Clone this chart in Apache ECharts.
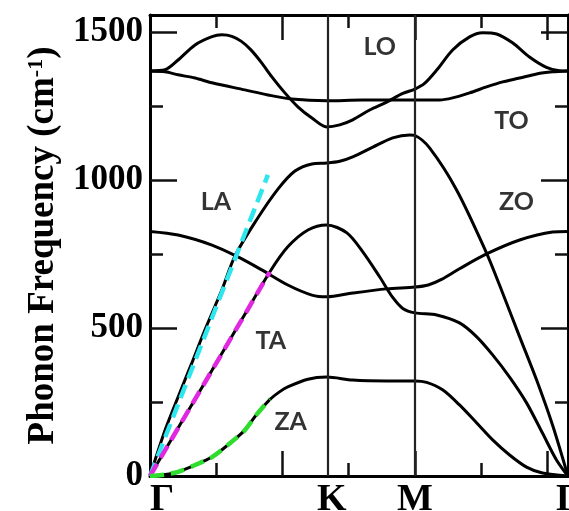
<!DOCTYPE html>
<html><head><meta charset="utf-8">
<script src="https://cdn.jsdelivr.net/npm/echarts@6/dist/echarts.min.js"></script>
<style>html,body{margin:0;padding:0;background:#fff}#c{width:569px;height:511px}</style>
</head><body><div id="c"></div>
<script>
// High-symmetry path positions (units of 2π/a): Γ - K - M - Γ
const K = 0.6667, M = 1.0, G2 = 1.5774;
const symPoints = [0, K, M, G2];
const symLabels = ['Γ', 'K', 'M', 'Γ'];
const yMax = 1557;
const yTickLabels = [0, 500, 1000, 1500];
const yMajorTicks = [500, 1000, 1500];
const yMinorTicks = [250, 750, 1250];
const xMajorTicks = [0.5, 1.0, 1.5];
const xMinorTicks = [0.25, 0.75, 1.25];

// Phonon branches [k, frequency cm^-1]
const bandLO = [[0,1368],[0.057,1372],[0.106,1405],[0.17,1456],[0.234,1484],[0.271,1490],[0.309,1485],[0.345,1468],[0.38,1440],[0.42,1397],[0.46,1348],[0.509,1294],[0.558,1247],[0.611,1209],[0.667,1179],[0.716,1186],[0.765,1203],[0.829,1236],[0.893,1263],[0.954,1292],[1.0,1307],[1.035,1325],[1.082,1371],[1.142,1439],[1.206,1483],[1.255,1497],[1.308,1493],[1.368,1463],[1.432,1415],[1.496,1380],[1.545,1369],[1.577,1368]];
const bandTO = [[0,1368],[0.057,1365],[0.106,1355],[0.17,1344],[0.234,1328],[0.358,1304],[0.445,1287],[0.535,1273],[0.667,1267],[0.8,1270],[1.0,1270],[1.093,1270],[1.142,1277],[1.206,1294],[1.27,1314],[1.331,1331],[1.395,1344],[1.459,1358],[1.519,1365],[1.577,1368]];
const bandLA = [[0,0],[0.057,155],[0.106,267],[0.158,382],[0.207,493],[0.271,628],[0.32,742],[0.4,862],[0.482,968],[0.547,1030],[0.611,1054],[0.667,1057],[0.716,1063],[0.765,1078],[0.841,1111],[0.916,1142],[0.98,1152],[1.0,1150],[1.055,1108],[1.157,966],[1.27,753],[1.319,645],[1.395,470],[1.459,324],[1.519,172],[1.577,0]];
const bandZO = [[0,826],[0.106,814],[0.234,780],[0.332,740],[0.422,696],[0.52,645],[0.611,611],[0.667,605],[0.765,618],[0.893,632],[1.0,638],[1.05,645],[1.1,664],[1.168,700],[1.27,750],[1.395,797],[1.519,824],[1.577,826]];
const bandTA = [[0,0],[0.106,162],[0.234,357],[0.358,546],[0.452,689],[0.52,774],[0.596,831],[0.667,848],[0.743,821],[0.803,757],[0.867,672],[0.916,603],[0.954,566],[1.0,551],[1.082,544],[1.168,517],[1.233,470],[1.293,409],[1.357,334],[1.421,247],[1.481,145],[1.534,54],[1.577,0]];
const bandZA = [[0,0],[0.057,5],[0.106,14],[0.17,37],[0.234,64],[0.294,105],[0.358,155],[0.4,205],[0.452,258],[0.49,285],[0.52,301],[0.596,327],[0.667,334],[0.765,324],[0.893,321],[1.0,321],[1.044,316],[1.104,291],[1.168,240],[1.233,179],[1.293,122],[1.357,71],[1.421,30],[1.481,10],[1.577,0]];

// Long-wavelength fits (dashed colored)
const fitLA = [[0,0],[0.445,1017]];
const fitTA = [[0,0],[0.452,689]];
const fitZA = [[0,0],[0.057,5],[0.106,14],[0.17,37],[0.234,64],[0.294,105],[0.358,155],[0.4,205],[0.452,260]];

// Branch labels
const branchLabels = [
  {name:'LO', value:[0.867,1449]},
  {name:'TO', value:[1.364,1199]},
  {name:'LA', value:[0.249,926]},
  {name:'ZO', value:[1.383,926]},
  {name:'TA', value:[0.456,456]},
  {name:'ZA', value:[0.531,182]}
];

const serif = 'Liberation Serif';
const gridRect = {left:150, right:1, top:15, bottom:35, containLabel:false, outerBoundsMode:'none'};

function xAxis(gridIndex, position, ticks, len, main, labels) {
  return {
    type:'value', gridIndex, position, min:0, max:G2,
    axisLine:{show:main, onZero:false, lineStyle:{color:'#000', width:3}},
    axisTick:{show:true, inside:true, length:len, customValues:ticks, lineStyle:{color:'#111', width:2.5}},
    splitLine:{show:false},
    axisLabel: labels ? {
      show:true, customValues:symPoints, margin:5,
      fontFamily:serif, fontWeight:'bold', fontSize:38, color:'#000',
      formatter:(v)=>{
        let idx = 0, best = 1e9;
        symPoints.forEach((p,i)=>{ if (Math.abs(p-v)<best){best=Math.abs(p-v);idx=i;} });
        if (idx===0) return '{a|'+symLabels[idx]+'}';
        if (idx===1) return '{b|'+symLabels[idx]+'}';
        return symLabels[idx];
      },
      rich:{
        a:{fontFamily:serif, fontWeight:'bold', fontSize:38, color:'#000', padding:[0,0,0,24]},
        b:{fontFamily:serif, fontWeight:'bold', fontSize:38, color:'#000', padding:[0,0,0,10]}
      }
    } : {show:false}
  };
}
function yAxis(gridIndex, position, ticks, len, main, labels) {
  const ax = {
    type:'value', gridIndex, position, min:0, max:yMax,
    axisLine:{show:main, onZero:false, lineStyle:{color:'#000', width:3}},
    axisTick:{show:true, inside:true, length:len, customValues:ticks, lineStyle:{color:'#111', width:2.5}},
    splitLine:{show:false},
    axisLabel: labels ? {show:true, customValues:yTickLabels, margin:7, formatter:(v)=>String(v),
      fontFamily:serif, fontWeight:'bold', fontSize:35, color:'#000'} : {show:false}
  };
  if (labels) {
    ax.name = 'Phonon Frequency (cm{sup|-1})';
    ax.nameLocation = 'middle';
    ax.nameRotate = 90;
    ax.nameGap = 80;
    ax.nameTextStyle = {fontFamily:serif, fontWeight:'bold', fontSize:37, color:'#000',
      rich:{sup:{fontFamily:serif, fontWeight:'bold', fontSize:22, color:'#000', verticalAlign:'top'}}};
  }
  return ax;
}

function band(data) {
  return {type:'line', data, xAxisIndex:0, yAxisIndex:0, smooth:0.3, symbol:'none',
    lineStyle:{color:'#000', width:3}, z:3, silent:true};
}
function fit(data, color) {
  return {type:'line', data, xAxisIndex:0, yAxisIndex:0, smooth:0.3, symbol:'none',
    lineStyle:{color, width:4.5, type:[14,7]}, z:5, silent:true};
}

const series = [
  {type:'line', data:[], xAxisIndex:0, yAxisIndex:0, symbol:'none',
   markLine:{silent:true, symbol:'none', label:{show:false},
     lineStyle:{color:'#222', width:2.2, type:'solid'},
     data:[{xAxis:K},{xAxis:M}]}, z:2},
  band(bandLO), band(bandTO), band(bandLA), band(bandZO), band(bandTA), band(bandZA),
  fit(fitLA, '#2ee6ee'), fit(fitTA, '#e028e0'), fit(fitZA, '#2edd2e'),
  {type:'scatter', data:branchLabels, xAxisIndex:0, yAxisIndex:0, symbolSize:0, silent:true, z:6,
   label:{show:true, position:'inside', formatter:'{b}', fontFamily:'Lato', fontWeight:'bold', fontSize:25, color:'#000'}}
];

const chart = echarts.init(document.getElementById('c'), null, {renderer:'canvas'});
chart.setOption({
  animation:false,
  backgroundColor:'#fff',
  grid:[Object.assign({}, gridRect), Object.assign({}, gridRect)],
  xAxis:[
    xAxis(0,'bottom',xMajorTicks,25,true,true),
    xAxis(0,'top',xMajorTicks,25,true,false),
    xAxis(1,'bottom',xMinorTicks,13,false,false),
    xAxis(1,'top',xMinorTicks,13,false,false)
  ],
  yAxis:[
    yAxis(0,'left',yMajorTicks,27,true,true),
    yAxis(0,'right',yMajorTicks,27,true,false),
    yAxis(1,'left',yMinorTicks,13,false,false),
    yAxis(1,'right',yMinorTicks,13,false,false)
  ],
  series
});
</script></body></html>
